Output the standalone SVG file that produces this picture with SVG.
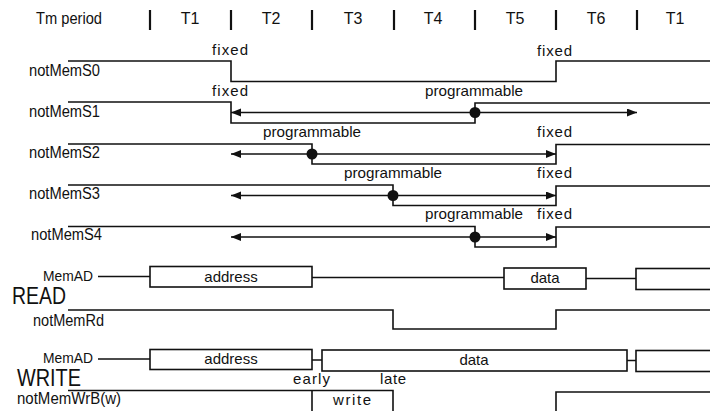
<svg xmlns="http://www.w3.org/2000/svg" width="710" height="411" viewBox="0 0 710 411">
  <style>
    text { font-family: "Liberation Sans", Arial, sans-serif; font-size: 15px; fill: #111; }
    .mid { text-anchor: middle; }
    .sig { font-size: 16px; }
    .head { font-size: 16px; }
    .big { font-size: 23px; }
    .wave { fill: none; stroke: #111; stroke-width: 1.6; }
    .box { fill: #fff; stroke: #111; stroke-width: 1.6; }
    .tick { stroke: #111; stroke-width: 2.2; }
    .arrow { stroke: #111; stroke-width: 1.6; marker-end: url(#head); }
    .dot { fill: #111; }
  </style>
  <defs>
    <marker id="head" markerUnits="userSpaceOnUse" markerWidth="11" markerHeight="9" refX="10" refY="4" orient="auto">
      <path d="M0,0 L10,4 L0,8 z" fill="#111"/>
    </marker>
  </defs>
  <rect width="710" height="411" fill="#fff"/>

  <!-- period header -->
  <g id="header">
    <text class="head" x="36" y="24" textLength="66" lengthAdjust="spacingAndGlyphs">Tm period</text>
    <g class="tick">
      <line x1="150" y1="10" x2="150" y2="30"/>
      <line x1="231" y1="10" x2="231" y2="30"/>
      <line x1="312" y1="10" x2="312" y2="30"/>
      <line x1="394" y1="10" x2="394" y2="30"/>
      <line x1="475" y1="10" x2="475" y2="30"/>
      <line x1="556" y1="10" x2="556" y2="30"/>
      <line x1="637" y1="10" x2="637" y2="30"/>
    </g>
    <text class="head mid" x="190" y="24">T1</text>
    <text class="head mid" x="271" y="24">T2</text>
    <text class="head mid" x="353" y="24">T3</text>
    <text class="head mid" x="433" y="24">T4</text>
    <text class="head mid" x="515" y="24">T5</text>
    <text class="head mid" x="596" y="24">T6</text>
    <text class="head mid" x="675" y="24">T1</text>
  </g>

  <!-- chip selects -->
  <g id="notMemS0">
    <text class="sig" x="29" y="76" textLength="71" lengthAdjust="spacingAndGlyphs">notMemS0</text>
    <path class="wave" d="M68,61 H231 V81.5 H556 V61 H710"/>
    <text x="212" y="55" textLength="36" lengthAdjust="spacing">fixed</text>
    <text x="537" y="56" textLength="35" lengthAdjust="spacing">fixed</text>
  </g>
  <g id="notMemS1">
    <text class="sig" x="29" y="117" textLength="71" lengthAdjust="spacingAndGlyphs">notMemS1</text>
    <path class="wave" d="M68,102 H231 V123 H475 V103 H710"/>
    <text x="212" y="96" textLength="36" lengthAdjust="spacing">fixed</text>
    <text x="425" y="96" textLength="98" lengthAdjust="spacingAndGlyphs">programmable</text>
    <circle class="dot" cx="475" cy="112.5" r="5.5"/>
  </g>
  <g id="notMemS2">
    <text class="sig" x="29" y="158" textLength="71" lengthAdjust="spacingAndGlyphs">notMemS2</text>
    <path class="wave" d="M68,144 H312 V164 H556 V144.5 H710"/>
    <text x="263" y="137" textLength="98" lengthAdjust="spacingAndGlyphs">programmable</text>
    <text x="537" y="137" textLength="35" lengthAdjust="spacing">fixed</text>
    <circle class="dot" cx="312" cy="154" r="5.5"/>
  </g>
  <g id="notMemS3">
    <text class="sig" x="29" y="199" textLength="71" lengthAdjust="spacingAndGlyphs">notMemS3</text>
    <path class="wave" d="M68,185 H393 V205.5 H556 V186 H710"/>
    <text x="344" y="178" textLength="98" lengthAdjust="spacingAndGlyphs">programmable</text>
    <text x="537" y="178" textLength="35" lengthAdjust="spacing">fixed</text>
    <circle class="dot" cx="393" cy="195.5" r="5.5"/>
  </g>
  <g id="notMemS4">
    <text class="sig" x="31" y="240" textLength="71" lengthAdjust="spacingAndGlyphs">notMemS4</text>
    <path class="wave" d="M68,226.5 H475 V247 H556 V227 H710"/>
    <text x="425" y="219" textLength="98" lengthAdjust="spacingAndGlyphs">programmable</text>
    <text x="537" y="219" textLength="35" lengthAdjust="spacing">fixed</text>
    <circle class="dot" cx="475" cy="237" r="5.5"/>
  </g>

  <!-- programmable ranges -->
  <g id="connectors">
    <line class="arrow" x1="475" y1="112.5" x2="231" y2="112.5"/>
    <line class="arrow" x1="475" y1="112.5" x2="637" y2="112.5"/>
    <line class="arrow" x1="312" y1="154" x2="231" y2="154"/>
    <line class="arrow" x1="312" y1="154" x2="556" y2="154"/>
    <line class="arrow" x1="393" y1="195.5" x2="231" y2="195.5"/>
    <line class="arrow" x1="393" y1="195.5" x2="556" y2="195.5"/>
    <line class="arrow" x1="475" y1="237" x2="231" y2="237"/>
    <line class="arrow" x1="475" y1="237" x2="556" y2="237"/>
  </g>

  <!-- read cycle -->
  <g id="read-memad">
    <text x="43" y="281" textLength="50" lengthAdjust="spacingAndGlyphs">MemAD</text>
    <path class="wave" d="M98,276.5 H150 M312,277.5 H504 M586,278.5 H636"/>
    <rect class="box" x="150" y="266.5" width="162" height="20.5"/>
    <text class="mid" x="231" y="282">address</text>
    <rect class="box" x="504" y="268" width="82" height="21"/>
    <text class="mid" x="545" y="283">data</text>
    <rect class="box" x="636" y="268.5" width="80" height="21"/>
  </g>
  <text class="big" x="12" y="304" textLength="54" lengthAdjust="spacingAndGlyphs">READ</text>
  <g id="notMemRd">
    <text class="sig" x="33" y="326" textLength="71" lengthAdjust="spacingAndGlyphs">notMemRd</text>
    <path class="wave" d="M68,310 H393 V329 H556 V310 H710"/>
  </g>

  <!-- write cycle -->
  <g id="write-memad">
    <text x="43" y="363" textLength="50" lengthAdjust="spacingAndGlyphs">MemAD</text>
    <path class="wave" d="M98,359 H150 M312,360 H322 M627,360.5 H636"/>
    <rect class="box" x="150" y="349.5" width="162" height="20"/>
    <text class="mid" x="231" y="364">address</text>
    <rect class="box" x="322" y="350" width="305" height="21"/>
    <text class="mid" x="474" y="365">data</text>
    <rect class="box" x="636" y="350.5" width="80" height="21"/>
  </g>
  <text class="big" x="17" y="386" textLength="64" lengthAdjust="spacingAndGlyphs">WRITE</text>
  <g id="notMemWrB">
    <text class="sig" x="17" y="404" textLength="104" lengthAdjust="spacingAndGlyphs">notMemWrB(w)</text>
    <path class="wave" d="M68,390.5 H393 V412 M312,390.5 V412 M556,412 V392 H712"/>
    <text x="293" y="384" textLength="37" lengthAdjust="spacing">early</text>
    <text x="380" y="384" textLength="26" lengthAdjust="spacing">late</text>
    <text x="333" y="405" textLength="38" lengthAdjust="spacing">write</text>
  </g>
</svg>
